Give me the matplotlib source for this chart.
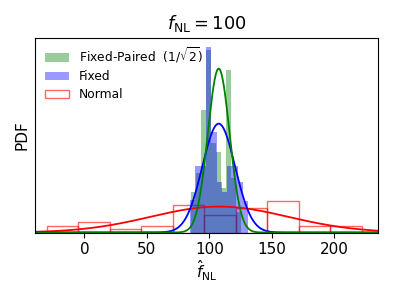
import numpy as np
import matplotlib
matplotlib.use("Agg")
import matplotlib.pyplot as plt

# ---- data ----
# Normal sims: counts per bin
normal_edges = np.linspace(-30, 222, 11)
normal_counts = [2, 3, 1, 2, 8, 5, 7, 9, 2, 2]

# Fixed sims: density per bin (x1e-3)
fixed_edges = np.linspace(84.6, 131.3, 12)
fixed_dens = [9.2, 18.7, 18.7, 51.9, 28.2, 14.2, 11.2, 18.7, 18.7, 14.2, 8.9]

# Fixed-Paired sims (1/sqrt2): density per bin (x1e-3)
paired_edges = np.linspace(85.1, 125.1, 11)
paired_dens = [11.2, 16.7, 34.2, 51.2, 25.1, 22.6, 12.5, 45.6, 15.3, 5.6]

# gaussian fits: (mean, sigma)
fit_normal = (108.0, 55.0)
fit_fixed = (107.5, 13.1)
fit_paired = (107.5, 8.7)

xlim = (-39.5, 234.7)


def gauss(x, mu, sig):
    return np.exp(-0.5 * ((x - mu) / sig) ** 2) / (np.sqrt(2 * np.pi) * sig)


fig = plt.figure(figsize=(3.95, 2.96), dpi=100)
ax = fig.add_axes([0.0886, 0.2145, 0.8675, 0.658])

ax.hist(paired_edges[:-1], bins=paired_edges, weights=np.array(paired_dens) * 1e-3,
        color='g', alpha=0.4, label=r'Fixed-Paired  $(1/\sqrt{2})$')
ax.hist(fixed_edges[:-1], bins=fixed_edges, weights=np.array(fixed_dens) * 1e-3,
        color='b', alpha=0.4, label='Fixed')
# normal hist sits underneath the others
ax.hist(normal_edges[:-1], bins=normal_edges, weights=normal_counts, density=True,
        fill=False, edgecolor='r', alpha=0.6, lw=1.0, label='Normal', zorder=0.5)

x = np.linspace(xlim[0], xlim[1], 600)
ax.plot(x, gauss(x, *fit_normal), 'r-', lw=1.3)
ax.plot(x, gauss(x, *fit_fixed), 'b-', lw=1.3)
ax.plot(x, gauss(x, *fit_paired), 'g-', lw=1.3)

ax.set_xlim(xlim)
ax.set_yticks([])
ax.set_xticks([0, 50, 100, 150, 200])
ax.tick_params(labelsize=11)
ax.set_xlabel(r'$\hat{f}_{\rm NL}$', fontsize=11, labelpad=1)
ax.set_ylabel('PDF', fontsize=11)
ax.set_title(r'$f_{\rm NL}=100$', fontsize=12.8)
ax.legend(loc='upper left', frameon=False, fontsize=8.8, labelspacing=0.4,
          handlelength=2.0, borderaxespad=0.4, bbox_to_anchor=(0.0, 1.01))

fig.savefig('out.png', dpi=100)
